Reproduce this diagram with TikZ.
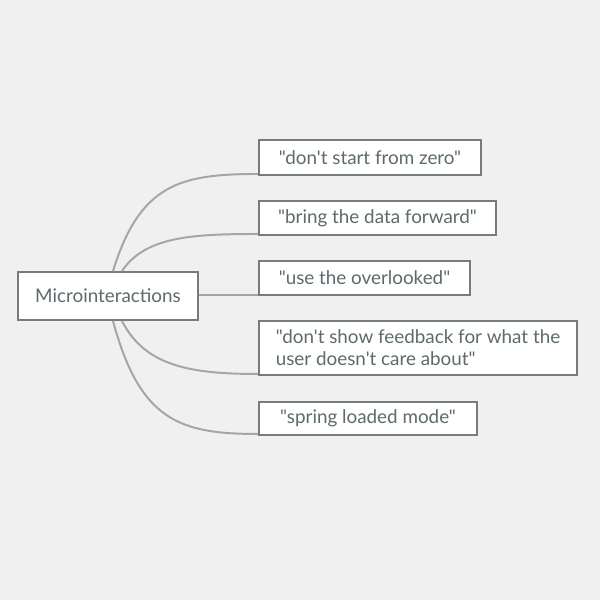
\documentclass[tikz,border=0pt]{standalone}
\usepackage{fontspec}
\setmainfont{Lato}[Ligatures=TeXOff]
\usetikzlibrary{calc,positioning}
\definecolor{bggrey}{HTML}{F0F0F0}
\definecolor{boxline}{HTML}{767B7B}
\definecolor{txtgrey}{HTML}{5E6A6C}
\definecolor{linkgrey}{HTML}{A5A5A5}

\begin{document}
\begin{tikzpicture}

\tikzset{rootnode/.style={draw=boxline,line width=1.4pt,fill=white,text=txtgrey,font=\fontsize{13.4}{15.6}\selectfont,minimum width=4.5cm,minimum height=1.2cm,inner sep=0pt},
leafnode/.style={draw=boxline,line width=1.4pt,fill=white,text=txtgrey,font=\fontsize{13.4}{15.6}\selectfont,anchor=west,align=left,inner sep=0pt},
link/.style={draw=linkgrey,line width=1.4pt}}

% Background
\fill[bggrey] (0,0) rectangle (15,15);

% Root node
\node[rootnode] (root) at (2.7,7.6) {Microinteractions};

% Leaf nodes
\node[leafnode,minimum width=5.55cm,minimum height=0.875cm] (zero) at (6.45,11.0625) {"don't start from zero"};
\node[leafnode,minimum width=5.925cm,minimum height=0.85cm] (data) at (6.45,9.55) {"bring the data forward"};
\node[leafnode,minimum width=5.275cm,minimum height=0.85cm] (overlooked) at (6.45,8.05) {"use the overlooked"};
\node[leafnode,minimum width=7.95cm,minimum height=1.35cm] (feedback) at (6.45,6.3) {"don't show feedback for what the\\user doesn't care about"};
\node[leafnode,minimum width=5.45cm,minimum height=0.825cm] (spring) at (6.45,4.5375) {"spring loaded mode"};

% Edges
\draw[link] ($(root.north)+(0.125,0)$) .. controls +(0.675,2.175) and +(-1.95,0) .. ($(zero.south west)+(0,0.05)$);
\draw[link] ($(root.north)+(0.35,0)$) .. controls +(0.575,0.85) and +(-1.7,0) .. ($(data.south west)+(0,0.05)$);
\draw[link] (root.east |- overlooked.south west) ++(0,0.03) -- ($(overlooked.south west)+(0,0.03)$);
\draw[link] ($(root.south)+(0.35,0)$) .. controls +(0.575,-1.125) and +(-1.7,0) .. ($(feedback.south west)+(0,0.05)$);
\draw[link] ($(root.south)+(0.125,0)$) .. controls +(0.675,-2.5) and +(-1.95,0) .. ($(spring.south west)+(0,0.05)$);

\end{tikzpicture}
\end{document}
